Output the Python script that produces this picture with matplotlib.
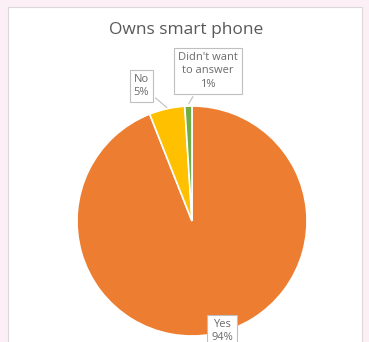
import matplotlib.pyplot as plt
from matplotlib.patches import Rectangle

# data
labels = ['Yes', 'No', "Didn't want\nto answer"]
values = [94, 5, 1]
colors = ['#ED7D31', '#FFC000', '#70AD47']

fig = plt.figure(figsize=(3.69, 3.42), dpi=100)
fig.patch.set_facecolor('#fcf0f6')

# chart area (behind the axes)
fig.patches.append(Rectangle((8 / 369, -0.05), 354 / 369, 1.05 - 7 / 342,
                             transform=fig.transFigure, facecolor='white',
                             edgecolor='#d9d9d9', linewidth=0.8, zorder=-1))

fig.text(186 / 369, 1 - 30 / 342, 'Owns smart phone', ha='center', va='center',
         fontsize=12.5, color='#595959', family='Open Sans')

R = 115
ax = fig.add_axes([(192 - R) / 369, (342 - 221 - R) / 342, 2 * R / 369, 2 * R / 342])
ax.pie(values, colors=colors, startangle=90, counterclock=False, radius=1,
       wedgeprops=dict(edgecolor='white', linewidth=1.2))
ax.set_xlim(-1, 1)
ax.set_ylim(-1, 1)
ax.set_aspect('auto')
ax.axis('off')

txt = dict(fontsize=8, color='#6b6b6b', ha='center', va='center', family='Open Sans',
           linespacing=1.3, annotation_clip=False,
           bbox=dict(boxstyle='square,pad=0.35', facecolor='white', edgecolor='#bfbfbf', linewidth=0.8),
           arrowprops=dict(arrowstyle='-', color='#bfbfbf', linewidth=0.8))

pct = [f'{v}%' for v in values]
ax.annotate(f'{labels[0]}\n{pct[0]}', xy=(0.22, -0.86), xytext=(0.26, -0.955), **txt)
ax.annotate(f'{labels[1]}\n{pct[1]}', xy=(-0.2, 0.97), xytext=(-0.44, 1.175), **txt)
ax.annotate(f'{labels[2]}\n{pct[2]}', xy=(-0.04, 1.0), xytext=(0.14, 1.305), **txt)

fig.savefig('out.png', dpi=100, facecolor=fig.get_facecolor())
